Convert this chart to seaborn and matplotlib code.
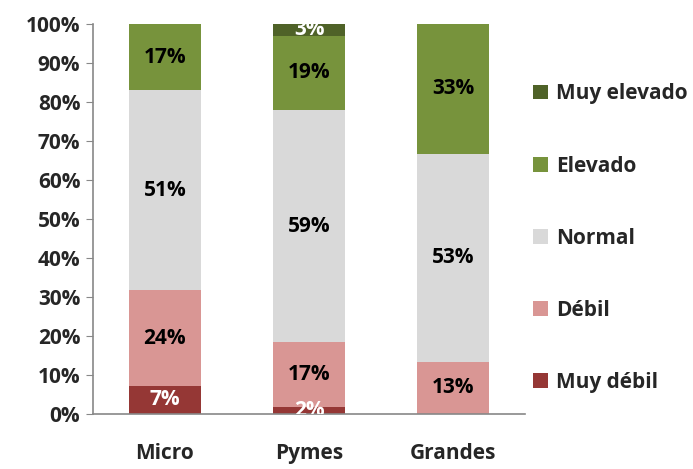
import numpy as np
import matplotlib
matplotlib.use("Agg")
import matplotlib.pyplot as plt
import seaborn as sns
from matplotlib.patches import Patch

# data (percent of companies per size class)
categories = ["Micro", "Pymes", "Grandes"]
levels = ["Muy débil", "Débil", "Normal", "Elevado", "Muy elevado"]
muy_debil = [7.3, 1.8, 0.0]
debil = [24.4, 16.7, 13.4]
normal = [51.3, 59.4, 53.3]
elevado = [17.0, 19.1, 33.3]
muy_elevado = [0.0, 3.0, 0.0]

colors = ["#953735", "#D99694", "#D9D9D9", "#77933C", "#4F6228"]
text_colors = ["white", "black", "black", "black", "white"]

sns.set_style("white")
plt.rcParams["font.family"] = ["Open Sans", "DejaVu Sans"]
plt.rcParams["font.weight"] = "bold"
fs = 15

fig = plt.figure(figsize=(6.93, 4.69), dpi=100)
ax = fig.add_axes([0.134, 0.117, 0.624, 0.832])

series = [muy_debil, debil, normal, elevado, muy_elevado]
bottom = np.zeros(len(categories))
for vals, col, tcol in zip(series, colors, text_colors):
    vals = np.array(vals)
    sns.barplot(x=categories, y=vals, bottom=bottom, color=col, width=0.5,
                saturation=1, ax=ax, linewidth=0, errorbar=None)
    cont = ax.containers[-1]
    labels = [f"{v:.0f}%" if v > 0 else "" for v in vals]
    ax.bar_label(cont, labels=labels, label_type="center", color=tcol,
                 fontsize=fs, fontweight="bold", clip_on=True)
    bottom = bottom + vals

ax.set_xlim(-0.5, 2.5)
ax.set_ylim(0, 100)
ax.set_yticks(np.arange(0, 101, 10))
ax.set_yticklabels([f"{t}%" for t in range(0, 101, 10)], fontsize=fs, fontweight="bold")
ax.set_xticks(range(len(categories)))
ax.set_xticklabels(categories, fontsize=fs, fontweight="bold")
ax.set_xticks([-0.5, 0.5, 1.5, 2.5], minor=True)
ax.tick_params(axis="x", which="major", length=0, pad=21)
ax.tick_params(axis="x", which="minor", length=5, color="#888888", direction="out")
ax.tick_params(axis="y", length=5, color="#888888", direction="out", pad=4, left=True)
ax.set_xlabel("")
ax.set_ylabel("")

for side in ["top", "right"]:
    ax.spines[side].set_visible(False)
for side in ["left", "bottom"]:
    ax.spines[side].set_color("#888888")
    ax.spines[side].set_linewidth(1.2)

handles = [Patch(facecolor=c, edgecolor="none") for c in colors][::-1]
fig.legend(handles, levels[::-1], loc="upper left", bbox_to_anchor=(0.742, 0.862),
           frameon=False, prop={"weight": "bold", "size": fs},
           handlelength=0.7, handleheight=0.7, handletextpad=0.4, labelspacing=2.45)

fig.savefig("out.png", dpi=100)
